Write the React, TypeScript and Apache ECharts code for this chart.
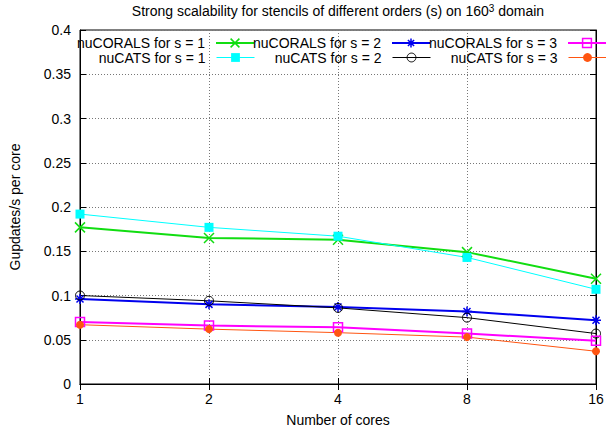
import React, { useEffect, useRef } from 'react';
import * as echarts from 'echarts';

const cores = ['1', '2', '4', '8', '16'];
const yMin = 0;
const yMax = 0.4;
const yStep = 0.05;

const coralsS1 = [0.177, 0.165, 0.163, 0.149, 0.119];
const catsS1 = [0.192, 0.177, 0.167, 0.143, 0.107];
const coralsS2 = [0.096, 0.090, 0.087, 0.082, 0.072];
const catsS2 = [0.100, 0.094, 0.086, 0.075, 0.057];
const coralsS3 = [0.070, 0.066, 0.064, 0.057, 0.049];
const catsS3 = [0.067, 0.062, 0.058, 0.053, 0.037];

const titleMain = 'Strong scalability for stencils of different orders (s) on 160';
const titleSup = '3';
const titleEnd = ' domain';
const xName = 'Number of cores';
const yName = 'Gupdates/s per core';

const FONT = '"Liberation Sans", Arial, Helvetica, sans-serif';
const CROSS = 'path://M0,0L10,10M10,0L0,10';
const STAR = 'path://M1.5,1.5L8.5,8.5M8.5,1.5L1.5,8.5M5,0L5,10M0,5L10,5';

const styles = [
  { name: 'nuCORALS for s = 1', data: coralsS1, color: '#11dd11', width: 2, symbol: CROSS, size: 10, fill: '#11dd11', bw: 1.5, right: 351, top: 36 },
  { name: 'nuCATS for s = 1', data: catsS1, color: '#00ffff', width: 1, symbol: 'rect', size: 9, fill: '#00ffff', bw: 0, right: 351, top: 50.5 },
  { name: 'nuCORALS for s = 2', data: coralsS2, color: '#0000ee', width: 2, symbol: STAR, size: 10, fill: '#0000ee', bw: 1.5, right: 175, top: 36 },
  { name: 'nuCATS for s = 2', data: catsS2, color: '#000000', width: 1, symbol: 'circle', size: 9, fill: 'transparent', bw: 1, right: 175, top: 50.5 },
  { name: 'nuCORALS for s = 3', data: coralsS3, color: '#ff00ff', width: 2, symbol: 'rect', size: 9, fill: 'transparent', bw: 1.5, right: -1, top: 36 },
  { name: 'nuCATS for s = 3', data: catsS3, color: '#ff5511', width: 1, symbol: 'circle', size: 8, fill: '#ff5511', bw: 0, right: -1, top: 50.5 },
];

export default function App() {
  const ref = useRef<HTMLDivElement>(null);
  useEffect(() => {
    document.body.style.margin = '0';
    const chart = echarts.init(ref.current!, null, { renderer: 'svg' });
    const axisText = { color: '#000', fontSize: 14, fontFamily: FONT };
    const gridLine = { show: true, lineStyle: { color: '#777', width: 1, type: [1, 2] as any } };
    const option: any = {
      animation: false,
      backgroundColor: '#fff',
      title: {
        text: `${titleMain}{sup|${titleSup}}${titleEnd}`,
        left: 338,
        top: 3,
        textAlign: 'center',
        padding: 0,
        textStyle: {
          color: '#000', fontSize: 14, fontWeight: 'normal', fontFamily: FONT,
          rich: { sup: { fontSize: 10, fontFamily: FONT, color: '#000', verticalAlign: 'top', padding: [0, 0, 6, 0] } },
        },
      },
      grid: {
        left: 80, right: 10, top: 30, bottom: 48,
        show: true, borderColor: '#000', borderWidth: 1, backgroundColor: 'transparent',
        containLabel: false, outerBoundsMode: 'none',
      },
      legend: styles.map((s) => ({
        data: [{ name: s.name }],
        right: s.right,
        top: s.top,
        align: 'right',
        orient: 'horizontal',
        padding: 0,
        itemGap: 0,
        itemWidth: 38,
        itemHeight: 11,
        selectedMode: false,
        textStyle: { color: '#000', fontSize: 14, lineHeight: 14, fontFamily: FONT, padding: [0, 6, 0, 0] },
        itemStyle: { color: s.fill, borderColor: s.color, borderWidth: s.bw },
        lineStyle: { color: s.color, width: s.width },
      })),
      xAxis: [
        {
          type: 'category', data: cores, boundaryGap: false, position: 'bottom',
          name: xName, nameLocation: 'middle', nameGap: 29, nameTextStyle: axisText,
          axisLine: { show: true, lineStyle: { color: '#000', width: 1 } },
          axisTick: { show: true, inside: true, length: 6, interval: 0, lineStyle: { color: '#000' } },
          axisLabel: { ...axisText, margin: 8, interval: 0 },
          splitLine: { ...gridLine, interval: 0 },
        },
        {
          type: 'category', data: cores, boundaryGap: false, position: 'top',
          axisLine: { show: true, lineStyle: { color: '#000', width: 1 } },
          axisTick: { show: true, inside: true, length: 6, interval: 0, lineStyle: { color: '#000' } },
          axisLabel: { show: false },
          splitLine: { show: false },
        },
      ],
      yAxis: [
        {
          type: 'value', min: yMin, max: yMax, interval: yStep, position: 'left',
          name: yName, nameLocation: 'middle', nameGap: 58, nameRotate: 90, nameTextStyle: axisText,
          axisLine: { show: true, lineStyle: { color: '#000', width: 1 } },
          axisTick: { show: true, inside: true, length: 6, lineStyle: { color: '#000' } },
          axisLabel: { ...axisText, margin: 9 },
          splitLine: gridLine,
        },
        {
          type: 'value', min: yMin, max: yMax, interval: yStep, position: 'right',
          axisLine: { show: true, lineStyle: { color: '#000', width: 1 } },
          axisTick: { show: true, inside: true, length: 6, lineStyle: { color: '#000' } },
          axisLabel: { show: false },
          splitLine: { show: false },
        },
      ],
      series: styles.map((s) => ({
        type: 'line',
        name: s.name,
        data: s.data,
        xAxisIndex: 0,
        yAxisIndex: 0,
        clip: false,
        symbol: s.symbol,
        symbolSize: s.size,
        showSymbol: true,
        lineStyle: { color: s.color, width: s.width },
        itemStyle: { color: s.fill, borderColor: s.color, borderWidth: s.bw },
        emphasis: { disabled: true },
      })),
    };
    chart.setOption(option);
    return () => chart.dispose();
  }, []);
  return <div ref={ref} style={{ position: 'fixed', left: 0, top: 0, width: 606, height: 432 }} />;
}
